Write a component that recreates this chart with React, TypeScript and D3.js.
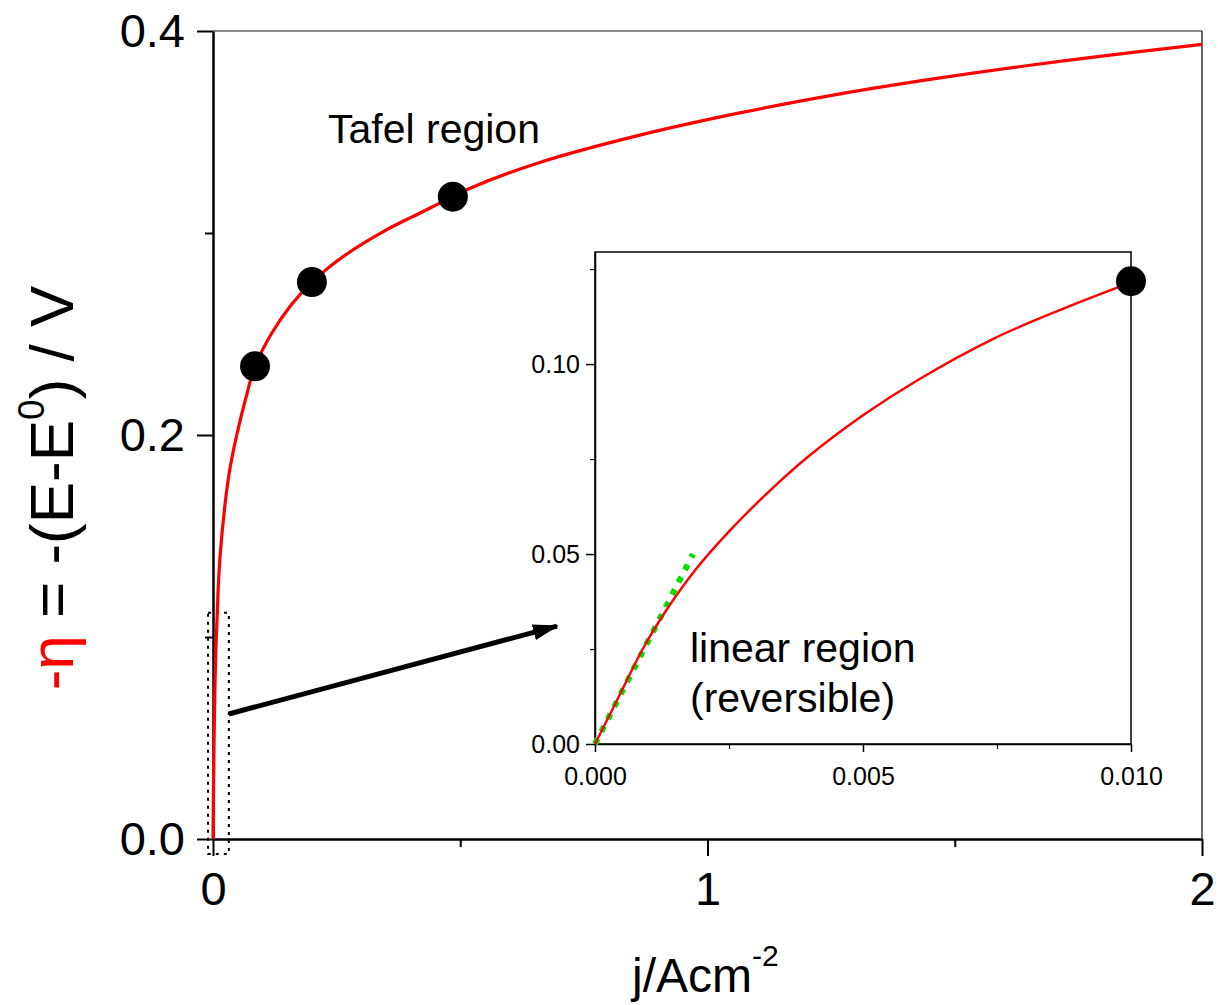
import * as d3 from "d3";
import { useEffect, useRef } from "react";

// main curve (j in A/cm2, -eta in V)
const mainJ = [0, 0.0004, 0.001, 0.002, 0.005, 0.01, 0.014, 0.024, 0.034, 0.048, 0.065, 0.085, 0.119, 0.16, 0.2, 0.267, 0.348, 0.423, 0.485, 0.52, 0.659, 0.859, 1.06, 1.26, 1.46, 1.66, 1.86, 2.0];
const mainEta = [0, 0.011, 0.025, 0.046, 0.087, 0.121, 0.139, 0.165, 0.183, 0.2, 0.217, 0.234, 0.2505, 0.265, 0.2757, 0.289, 0.3012, 0.3104, 0.318, 0.3222, 0.3348, 0.3482, 0.3592, 0.3685, 0.3764, 0.3833, 0.3894, 0.3934];

// Tafel points
const tafelJ = [0.085, 0.2, 0.485];
const tafelEta = [0.234, 0.2757, 0.318];

// inset curve
const insetJ = [0, 0.0004, 0.00089, 0.00125, 0.00187, 0.00251, 0.00316, 0.00394, 0.00504, 0.00601, 0.00744, 0.00867, 0.01];
const insetEta = [0, 0.0112, 0.025, 0.0335, 0.0458, 0.0561, 0.0653, 0.0752, 0.0869, 0.0957, 0.1067, 0.1142, 0.1215];
const insetDotJ = [0.01];
const insetDotEta = [0.1218];

// linear (reversible) tangent
const linJ = [0, 0.00183];
const linEta = [0, 0.05];

// ticks
const mainXMajor = [0, 1, 2];
const mainXMinor = [0.5, 1.5];
const mainYMajor = [0, 0.2, 0.4];
const mainYMinor = [0.1, 0.3];
const insetXMajor = [0, 0.005, 0.01];
const insetXMinor = [0.0025, 0.0075];
const insetYMajor = [0, 0.05, 0.1];
const insetYMinor = [0.025, 0.075, 0.125];

const FONT = "'Liberation Sans', Arial, Helvetica, sans-serif";

export default function App() {
  const svgRef = useRef<SVGSVGElement>(null);

  useEffect(() => {
    const svg = d3.select(svgRef.current);
    svg.selectAll("*").remove();

    //SCALES MAIN
    const x = d3.scaleLinear().domain([0, 2]).range([213, 1202]);
    const y = d3.scaleLinear().domain([0, 0.4]).range([839, 31]);
    //SCALES INSET
    const xi = d3.scaleLinear().domain([0, 0.01]).range([595, 1131]);
    const yi = d3.scaleLinear().domain([0, 0.1295]).range([744, 252]);

    const defs = svg.append("defs");
    defs
      .append("marker")
      .attr("id", "arrowHead")
      .attr("markerUnits", "userSpaceOnUse")
      .attr("markerWidth", 30)
      .attr("markerHeight", 20)
      .attr("refX", 24)
      .attr("refY", 8)
      .attr("orient", "auto")
      .append("path")
      .attr("d", "M0,0 L26,8 L0,16 Z")
      .attr("fill", "#000");

    //FRAME TOP + RIGHT
    svg.append("line")
      .attr("x1", x(0)).attr("x2", x(2)).attr("y1", y(0.4)).attr("y2", y(0.4))
      .attr("stroke", "#666").attr("stroke-width", 1.5);
    svg.append("line")
      .attr("x1", x(2)).attr("x2", x(2)).attr("y1", y(0.4)).attr("y2", y(0))
      .attr("stroke", "#000").attr("stroke-width", 1.2);

    //MAIN AXES
    const styleAxis = (g, size) => {
      g.select(".domain").attr("stroke", "#000").attr("stroke-width", 2.5);
      g.selectAll(".tick line").attr("stroke", "#000").attr("stroke-width", 2);
      g.selectAll("text").attr("font-family", FONT).attr("font-size", size).attr("fill", "#000");
    };

    const yAxis = svg.append("g").attr("transform", `translate(${x(0)},0)`)
      .call(d3.axisLeft(y).tickValues(mainYMajor).tickSize(16).tickSizeOuter(0).tickPadding(12).tickFormat(d3.format(".1f")));
    styleAxis(yAxis, 47);
    const yMinor = svg.append("g").attr("transform", `translate(${x(0)},0)`)
      .call(d3.axisLeft(y).tickValues(mainYMinor).tickSize(8).tickFormat(() => ""));
    yMinor.select(".domain").remove();
    yMinor.selectAll(".tick line").attr("stroke", "#000").attr("stroke-width", 2);

    const xAxis = svg.append("g").attr("transform", `translate(0,${y(0)})`)
      .call(d3.axisBottom(x).tickValues(mainXMajor).tickSize(17).tickSizeOuter(0).tickPadding(16).tickFormat(d3.format("d")));
    styleAxis(xAxis, 47);
    const xMinor = svg.append("g").attr("transform", `translate(0,${y(0)})`)
      .call(d3.axisBottom(x).tickValues(mainXMinor).tickSize(8).tickFormat(() => ""));
    xMinor.select(".domain").remove();
    xMinor.selectAll(".tick line").attr("stroke", "#000").attr("stroke-width", 2);

    //DOTTED ZOOM BOX
    svg.append("rect")
      .attr("x", x(-0.01)).attr("y", y(0.112))
      .attr("width", x(0.032) - x(-0.01)).attr("height", y(-0.0074) - y(0.112))
      .attr("fill", "none").attr("stroke", "#000").attr("stroke-width", 2)
      .attr("stroke-dasharray", "3,5");

    //MAIN CURVE
    const line = d3.line().x((d) => x(d[0])).y((d) => y(d[1])).curve(d3.curveCatmullRom.alpha(0.5));
    svg.append("path")
      .datum(mainJ.map((j, i) => [j, mainEta[i]]))
      .attr("d", line)
      .attr("fill", "none").attr("stroke", "#ff0000").attr("stroke-width", 3.2);

    svg.selectAll(".tafel").data(tafelJ).enter().append("circle")
      .attr("cx", (d) => x(d)).attr("cy", (d, i) => y(tafelEta[i]))
      .attr("r", 15).attr("fill", "#000");

    //INSET FRAME
    svg.append("rect")
      .attr("x", xi(0)).attr("y", yi(0.1295))
      .attr("width", xi(0.01) - xi(0)).attr("height", yi(0) - yi(0.1295))
      .attr("fill", "#fff").attr("stroke", "#000").attr("stroke-width", 1.5);

    const yiAxis = svg.append("g").attr("transform", `translate(${xi(0)},0)`)
      .call(d3.axisLeft(yi).tickValues(insetYMajor).tickSize(9).tickSizeOuter(0).tickPadding(6).tickFormat(d3.format(".2f")));
    styleAxis(yiAxis, 25);
    yiAxis.select(".domain").attr("stroke-width", 1.5);
    yiAxis.selectAll(".tick line").attr("stroke-width", 1.5);
    const yiMinor = svg.append("g").attr("transform", `translate(${xi(0)},0)`)
      .call(d3.axisLeft(yi).tickValues(insetYMinor).tickSize(5).tickFormat(() => ""));
    yiMinor.select(".domain").remove();
    yiMinor.selectAll(".tick line").attr("stroke", "#000").attr("stroke-width", 1.2);

    const xiAxis = svg.append("g").attr("transform", `translate(0,${yi(0)})`)
      .call(d3.axisBottom(xi).tickValues(insetXMajor).tickSize(8).tickSizeOuter(0).tickPadding(15).tickFormat(d3.format(".3f")));
    styleAxis(xiAxis, 25);
    xiAxis.select(".domain").attr("stroke-width", 1.5);
    xiAxis.selectAll(".tick line").attr("stroke-width", 1.5);
    const xiMinor = svg.append("g").attr("transform", `translate(0,${yi(0)})`)
      .call(d3.axisBottom(xi).tickValues(insetXMinor).tickSize(5).tickFormat(() => ""));
    xiMinor.select(".domain").remove();
    xiMinor.selectAll(".tick line").attr("stroke", "#000").attr("stroke-width", 1.2);

    //INSET CURVES
    const lineI = d3.line().x((d) => xi(d[0])).y((d) => yi(d[1])).curve(d3.curveCatmullRom.alpha(0.5));
    svg.append("path")
      .datum(linJ.map((j, i) => [j, linEta[i]]))
      .attr("d", lineI)
      .attr("fill", "none").attr("stroke", "#00e000").attr("stroke-width", 6)
      .attr("stroke-dasharray", "6,8");
    svg.append("path")
      .datum(insetJ.map((j, i) => [j, insetEta[i]]))
      .attr("d", lineI)
      .attr("fill", "none").attr("stroke", "#ff0000").attr("stroke-width", 2.4);
    svg.selectAll(".idot").data(insetDotJ).enter().append("circle")
      .attr("cx", (d) => xi(d)).attr("cy", (d, i) => yi(insetDotEta[i]))
      .attr("r", 15).attr("fill", "#000");

    //ARROW
    svg.append("line")
      .attr("x1", x(0.032)).attr("y1", y(0.0619))
      .attr("x2", x(0.6957)).attr("y2", y(0.1054))
      .attr("stroke", "#000").attr("stroke-width", 5)
      .attr("marker-end", "url(#arrowHead)");

    //TEXTS
    const txt = (tx, ty, s, size) =>
      svg.append("text").attr("x", tx).attr("y", ty).attr("font-family", FONT)
        .attr("font-size", size).attr("fill", "#000").text(s);
    txt(328, 143, "Tafel region", 41);
    txt(690, 662, "linear region", 41);
    txt(690, 712, "(reversible)", 41);

    //X LABEL
    const xl = svg.append("text").attr("x", 632).attr("y", 992)
      .attr("font-family", FONT).attr("font-size", 48).attr("fill", "#000");
    xl.append("tspan").text("j/Acm");
    xl.append("tspan").attr("font-size", 30).attr("dy", -26).text("-2");

    //Y LABEL
    const yl = svg.append("text")
      .attr("transform", "translate(73,488) rotate(-90)")
      .attr("text-anchor", "middle")
      .attr("font-family", FONT).attr("font-size", 62).attr("fill", "#000");
    yl.append("tspan").attr("fill", "#ff0000").text("-η");
    yl.append("tspan").text(" = -(E-E");
    yl.append("tspan").attr("font-size", 37).attr("dy", -29).text("0");
    yl.append("tspan").attr("dy", 29).text(") / V");
  }, []);

  return (
    <svg
      ref={svgRef}
      width={1218}
      height={1005}
      style={{ position: "absolute", left: 0, top: 0, background: "#fff" }}
    />
  );
}
